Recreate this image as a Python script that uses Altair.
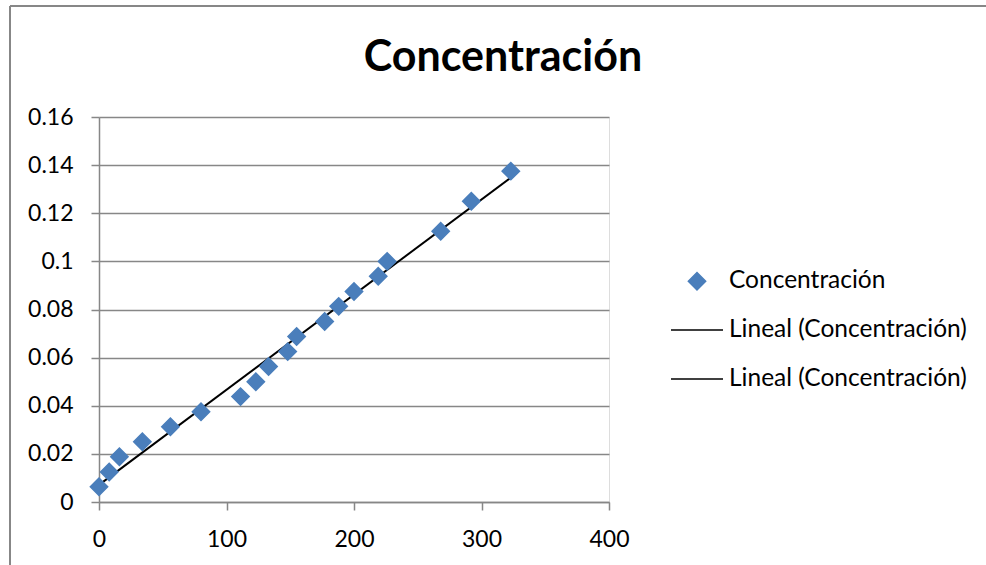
import altair as alt
import pandas as pd

# ---- data ----
x_vals = [0, 8, 16, 34, 56, 80, 111, 123, 133, 148, 155, 177, 188, 200, 219, 226, 268, 292, 323]
y_vals = [0.0063, 0.0125, 0.0188, 0.025, 0.0313, 0.0375, 0.0438, 0.05, 0.0563, 0.0625,
          0.0688, 0.075, 0.0813, 0.0875, 0.0938, 0.1, 0.1125, 0.125, 0.1375]
series_names = ["Concentración", "Lineal (Concentración)", "Lineal (Concentración) "]
x_ticks = [0, 100, 200, 300, 400]
y_ticks = [0, 0.02, 0.04, 0.06, 0.08, 0.1, 0.12, 0.14, 0.16]
title_text = "Concentración"

BLUE = "#4A7EBB"
GRAY = "#878787"
FONT = "Lato"

df = pd.DataFrame({"x": x_vals, "y": y_vals, "serie": series_names[0]})

xscale = alt.Scale(domain=[0, 400], nice=False, zero=True)
yscale = alt.Scale(domain=[0, 0.16], nice=False, zero=True)

xaxis = alt.Axis(values=x_ticks, grid=False, title=None, tickSize=8, tickColor=GRAY,
                 tickWidth=1.5, domainColor=GRAY, domainWidth=1.5, labelFont=FONT,
                 labelFontSize=23, labelColor="black", labelPadding=18, labelFlush=False)
yaxis = alt.Axis(values=y_ticks, format="~g", grid=True, gridColor=GRAY, gridWidth=1.5,
                 title=None, tickSize=8, tickColor=GRAY, tickWidth=1.5, domainColor=GRAY,
                 domainWidth=1.5, labelFont=FONT, labelFontSize=23, labelColor="black",
                 labelPadding=18)

leg = alt.Legend(title=None, orient="none", legendX=571, legendY=152, labelFont=FONT,
                 labelFontSize=24.5, labelColor="black", labelOffset=5, rowPadding=10,
                 labelLimit=400, symbolStrokeWidth=1.5)

points = alt.Chart(df).mark_point(filled=True, opacity=1, strokeWidth=1.5).encode(
    x=alt.X("x:Q", scale=xscale, axis=xaxis),
    y=alt.Y("y:Q", scale=yscale, axis=yaxis),
    shape=alt.Shape("serie:N", scale=alt.Scale(domain=series_names,
                                               range=["diamond", "stroke", "stroke"]), legend=leg),
    fill=alt.Fill("serie:N", scale=alt.Scale(domain=series_names,
                                             range=[BLUE, "transparent", "transparent"]), legend=leg),
    stroke=alt.Stroke("serie:N", scale=alt.Scale(domain=series_names,
                                                 range=[BLUE, "black", "black"]), legend=leg),
    size=alt.Size("serie:N", scale=alt.Scale(type="ordinal", domain=series_names,
                                             range=[300, 2704, 2704]), legend=leg),
)

trend = alt.Chart(df).transform_regression("x", "y").mark_line(
    color="black", strokeWidth=2).encode(
    x=alt.X("x:Q", scale=xscale),
    y=alt.Y("y:Q", scale=yscale),
)

border_left = alt.Chart(df).mark_rule(color=GRAY, strokeWidth=1.5).encode(
    x=alt.value(-89), y=alt.value(-111), y2=alt.value(448))
border_top = alt.Chart(df).mark_rule(color=GRAY, strokeWidth=1.5).encode(
    x=alt.value(-89), x2=alt.value(887), y=alt.value(-111))

chart = alt.layer(trend, points, border_left, border_top).properties(
    width=510, height=385,
    padding={"left": 99, "top": 117, "right": 377, "bottom": 63},
    autosize=alt.AutoSizeParams(type="none"),
    title=alt.TitleParams(title_text, font=FONT, fontSize=43, fontWeight="bold",
                          color="black", anchor="middle", dx=149, offset=-75),
).configure_view(stroke=None).configure(background="white")

chart.save("out.html", embed_options={"renderer": "svg", "actions": False})
